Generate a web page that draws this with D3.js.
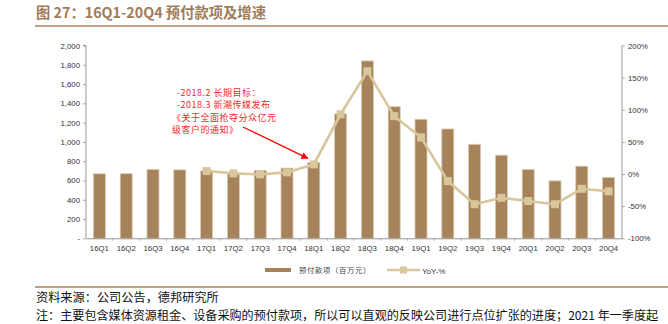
<!DOCTYPE html>
<html><head><meta charset="utf-8">
<script src="https://cdn.jsdelivr.net/npm/d3@7"></script>
<style>
body{margin:0;background:#fff;}
svg{display:block;}
</style></head>
<body>
<svg id="c" width="668" height="324"></svg>
<script>
const categories = ["16Q1","16Q2","16Q3","16Q4","17Q1","17Q2","17Q3","17Q4","18Q1","18Q2","18Q3","18Q4","19Q1","19Q2","19Q3","19Q4","20Q1","20Q2","20Q3","20Q4"];
const prepayments = [669,670,713,710,700,677,705,728,787,1290,1840,1365,1235,1134,975,862,714,596,748,631];
const yoy = [null,null,null,null,4.7,1.0,-0.5,2.6,15,93,160,90,57,-11,-47,-37,-42,-47,-23,-27];
const leftTicks = [0,200,400,600,800,1000,1200,1400,1600,1800,2000];
const rightTicks = [-100,-50,0,50,100,150,200];
const annotationLines = ["-2018.2 长期目标：","-2018.3 新潮传媒发布","《关于全面抢夺分众亿元","级客户的通知》"];

const svg = d3.select("#c");
const m = {l:86, r:622, t:45.5, b:238.3};
const barColor = "#a6835b", lineColor = "#d8c69c";
const font = "'Liberation Sans', Arial, sans-serif";
const cjk = "'Noto Sans CJK SC', sans-serif";

// title
svg.append("text").attr("x",36).attr("y",17.5).attr("fill","#a07c58")
  .attr("font-family",cjk).attr("font-weight","bold").attr("font-size",14.3)
  .text("图 27：16Q1-20Q4 预付款项及增速");
svg.append("line").attr("x1",35).attr("x2",668).attr("y1",26).attr("y2",26)
  .attr("stroke","#a9855f").attr("stroke-width",1.6);

const x = d3.scaleBand().domain(categories).range([m.l,m.r]);
const yL = d3.scaleLinear().domain([0,2000]).range([m.b,m.t]);
const yR = d3.scaleLinear().domain([-100,200]).range([m.b,m.t]);

// bars
svg.append("g").selectAll("rect").data(categories).join("rect")
  .attr("x",d=>x(d)+x.bandwidth()/2-6)
  .attr("width",12)
  .attr("y",(d,i)=>yL(prepayments[i]))
  .attr("height",(d,i)=>m.b-yL(prepayments[i]))
  .attr("fill",barColor).attr("stroke","#dccbb0").attr("stroke-width",0.8);

// axes
const axL = d3.axisLeft(yL).tickValues(leftTicks).tickSize(3)
  .tickFormat(d=>d===0?"-":d3.format(",")(d));
const gL = svg.append("g").attr("transform",`translate(${m.l},0)`).call(axL);
const axR = d3.axisRight(yR).tickValues(rightTicks).tickSize(3).tickFormat(d=>d+"%");
const gR = svg.append("g").attr("transform",`translate(${m.r},0)`).call(axR);
const axB = d3.axisBottom(x).tickSize(0).tickPadding(6);
const gB = svg.append("g").attr("transform",`translate(0,${m.b})`).call(axB);
svg.append("g").selectAll("line").data(categories.slice(1)).join("line")
  .attr("x1",d=>x(d)).attr("x2",d=>x(d)).attr("y1",m.b).attr("y2",m.b+2.5)
  .attr("stroke","#999").attr("stroke-width",0.7);
[gL,gR,gB].forEach(g=>{
  g.selectAll("path").attr("stroke","#8a8a8a").attr("stroke-width",0.9);
  g.selectAll("line").attr("stroke","#8a8a8a").attr("stroke-width",0.7);
  g.selectAll("text").attr("font-family",font).attr("font-size",7.8).attr("fill","#333");
});
gL.select("path").attr("d",`M-3,${m.t}H0V${m.b}`);
gR.select("path").attr("d",`M0,${m.t}V${m.b}`);
gB.selectAll("text").attr("dy","0.9em");

// line
const pts = categories.map((c,i)=>({c,v:yoy[i]})).filter(d=>d.v!==null);
svg.append("path").datum(pts)
  .attr("d",d3.line().x(d=>x(d.c)+x.bandwidth()/2).y(d=>yR(d.v)))
  .attr("fill","none").attr("stroke",lineColor).attr("stroke-width",2.6);
svg.append("g").selectAll("rect").data(pts).join("rect")
  .attr("x",d=>x(d.c)+x.bandwidth()/2-4).attr("y",d=>yR(d.v)-4)
  .attr("width",8).attr("height",8).attr("fill",lineColor);

// annotation
const ann = svg.append("g").attr("fill","#f52a2a").attr("font-family",cjk).attr("font-size",9)
  .attr("letter-spacing",0.5);
annotationLines.forEach((t,i)=>{
  ann.append("text").attr("x", i<2?177:172).attr("y",96+i*12.3).text(t);
});
svg.append("defs").append("marker").attr("id","ah").attr("viewBox","0 0 10 10")
  .attr("refX",9).attr("refY",5).attr("markerWidth",9).attr("markerHeight",7)
  .attr("orient","auto").attr("markerUnits","userSpaceOnUse")
  .append("path").attr("d","M0,0L10,5L0,10z").attr("fill","#f00");
const tx = x("18Q1")+x.bandwidth()/2-6, ty = yR(yoy[8])-6;
svg.append("line").attr("x1",243).attr("y1",127).attr("x2",tx).attr("y2",ty)
  .attr("stroke","#f00").attr("stroke-width",1.3).attr("marker-end","url(#ah)");

// legend
const lg = svg.append("g");
lg.append("rect").attr("x",265).attr("y",268).attr("width",26).attr("height",4).attr("fill",barColor);
lg.append("text").attr("x",299).attr("y",273).attr("font-family",cjk).attr("font-size",7.4)
  .attr("letter-spacing",0.6).attr("fill","#444").text("预付款项（百万元）");
lg.append("line").attr("x1",387).attr("x2",420).attr("y1",270).attr("y2",270).attr("stroke",lineColor).attr("stroke-width",2.6);
lg.append("rect").attr("x",400).attr("y",266.5).attr("width",7).attr("height",7).attr("fill",lineColor);
lg.append("text").attr("x",422).attr("y",273.5).attr("font-family",font).attr("font-size",8).attr("fill","#333").text("YoY-%");

// footer
svg.append("line").attr("x1",35).attr("x2",668).attr("y1",287).attr("y2",287)
  .attr("stroke","#a9855f").attr("stroke-width",1.4);
svg.append("text").attr("x",36).attr("y",302).attr("font-family",cjk).attr("font-size",12.2).attr("fill","#111")
  .text("资料来源：公司公告，德邦研究所");
svg.append("text").attr("x",36).attr("y",320).attr("font-family",cjk).attr("font-size",12.1).attr("fill","#111")
  .text("注：主要包含媒体资源租金、设备采购的预付款项，所以可以直观的反映公司进行点位扩张的进度；2021 年一季度起");
</script>
</body></html>
